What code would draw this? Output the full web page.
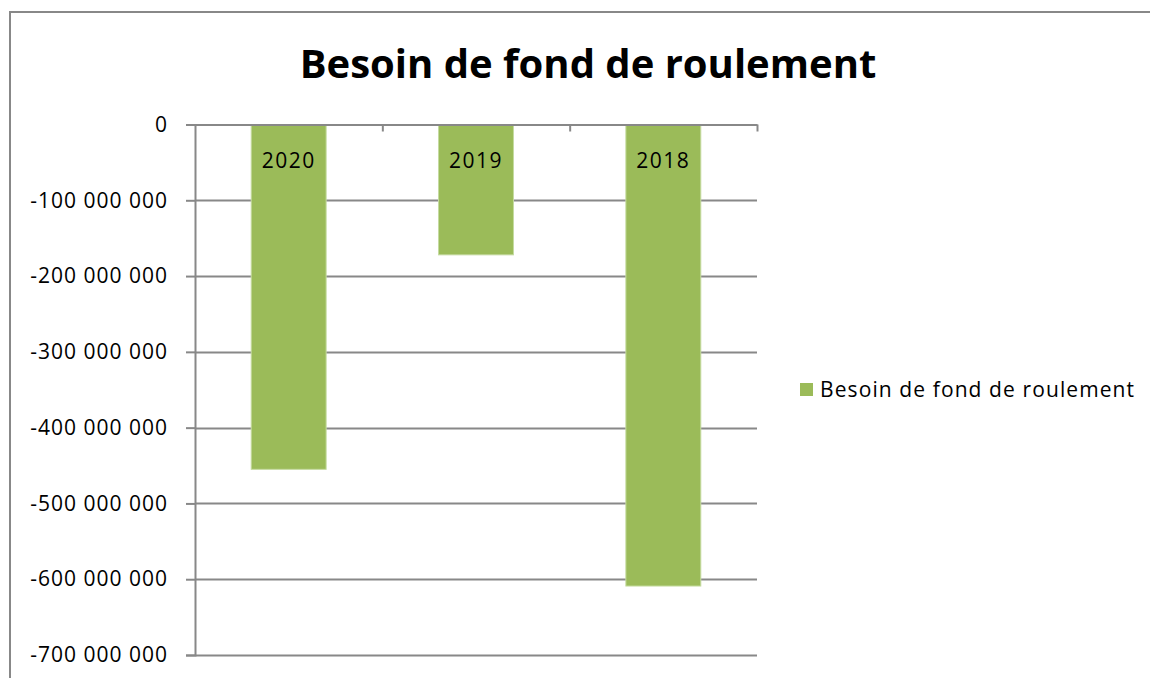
<!DOCTYPE html>
<html>
<head>
<meta charset="utf-8">
<script src="https://cdn.jsdelivr.net/npm/d3@7"></script>
<style>
  body { margin: 0; background: #fff; }
  text { font-family: "Open Sans", "Noto Sans", sans-serif; fill: #000; }
</style>
</head>
<body>
<div id="main"></div>
<script>
// chart data
const years = ['2020', '2019', '2018'];
const values = [-455000000, -172000000, -609000000];
const yTicks = [0, -100000000, -200000000, -300000000, -400000000, -500000000, -600000000, -700000000];
const seriesName = 'Besoin de fond de roulement';
const chartTitle = 'Besoin de fond de roulement';

const svgWidth = 1150;
const svgHeight = 678;
const plot = { l: 195, r: 757, t: 124.5, b: 655 };
const barColor = '#9bbb59';
const axisColor = '#888888';

const svg = d3
  .select('#main')
  .append('svg')
  .attr('width', svgWidth)
  .attr('height', svgHeight);

// chart frame (runs off the right and bottom edge)
svg
  .append('rect')
  .attr('x', 10)
  .attr('y', 12)
  .attr('width', 1300)
  .attr('height', 900)
  .attr('fill', 'none')
  .attr('stroke', axisColor)
  .attr('stroke-width', 2);

// title
svg
  .append('text')
  .attr('x', 588)
  .attr('y', 78)
  .attr('text-anchor', 'middle')
  .style('font-weight', 'bold')
  .style('font-size', '40px')
  .text(chartTitle);

// scales
const x = d3
  .scaleBand()
  .domain(years)
  .range([plot.l, plot.r])
  .paddingInner(0.6)
  .paddingOuter(0.3);

const y = d3
  .scaleLinear()
  .domain([0, -700000000])
  .range([plot.t, plot.b]);

const locale = d3.formatLocale({
  decimal: ',',
  thousands: ' ',
  grouping: [3],
  currency: ['', ' €'],
  minus: '-'
});
const fmt = locale.format(',');

// gridlines
svg
  .append('g')
  .selectAll('line')
  .data(yTicks.filter(d => d !== 0))
  .enter()
  .append('line')
  .attr('x1', plot.l)
  .attr('x2', plot.r)
  .attr('y1', d => Math.round(y(d)) + 0.5)
  .attr('y2', d => Math.round(y(d)) + 0.5)
  .attr('stroke', axisColor)
  .attr('stroke-width', 2);

// bars
svg
  .append('g')
  .selectAll('rect')
  .data(years)
  .enter()
  .append('rect')
  .attr('x', d => x(d))
  .attr('width', x.bandwidth())
  .attr('y', y(0))
  .attr('height', (d, i) => y(values[i]) - y(0))
  .attr('fill', barColor)
  .attr('stroke', '#c5dba0')
  .attr('stroke-width', 1);

// bar labels
svg
  .append('g')
  .selectAll('text')
  .data(years)
  .enter()
  .append('text')
  .attr('x', d => x(d) + x.bandwidth() / 2)
  .attr('y', 168)
  .attr('text-anchor', 'middle')
  .style('font-size', '21px')
  .style('letter-spacing', '1.5px')
  .text(d => d);

// y axis
const yAxis = d3
  .axisLeft(y)
  .tickValues(yTicks)
  .tickSize(9)
  .tickPadding(18)
  .tickFormat(fmt);

const yAxisG = svg
  .append('g')
  .attr('transform', 'translate(' + plot.l + ',0)')
  .call(yAxis);
yAxisG.select('.domain').attr('stroke', axisColor).attr('stroke-width', 2);
yAxisG.selectAll('.tick line').attr('stroke', axisColor).attr('stroke-width', 2);
yAxisG
  .selectAll('.tick text')
  .style('font-size', '21px')
  .style('letter-spacing', '1px')
  .style('font-family', '"Open Sans", sans-serif')
  .attr('fill', '#000');

// category axis sits on the zero line, ticks between bars
const xEdge = d3
  .scaleLinear()
  .domain([0, years.length])
  .range([plot.l, plot.r]);

const xAxis = d3
  .axisBottom(xEdge)
  .tickValues(d3.range(1, years.length + 1))
  .tickSize(7)
  .tickSizeOuter(0)
  .tickFormat('');

const xAxisG = svg
  .append('g')
  .attr('transform', 'translate(0,' + plot.t + ')')
  .call(xAxis);
xAxisG.select('.domain').attr('stroke', axisColor).attr('stroke-width', 2);
xAxisG.selectAll('.tick line').attr('stroke', axisColor).attr('stroke-width', 2);

// legend
const legend = svg.append('g').attr('transform', 'translate(800,383)');
legend
  .append('rect')
  .attr('width', 13)
  .attr('height', 13)
  .attr('fill', barColor);
legend
  .append('text')
  .attr('x', 20)
  .attr('y', 14)
  .style('font-size', '21px')
  .style('letter-spacing', '1.1px')
  .text(seriesName);
</script>
</body>
</html>
